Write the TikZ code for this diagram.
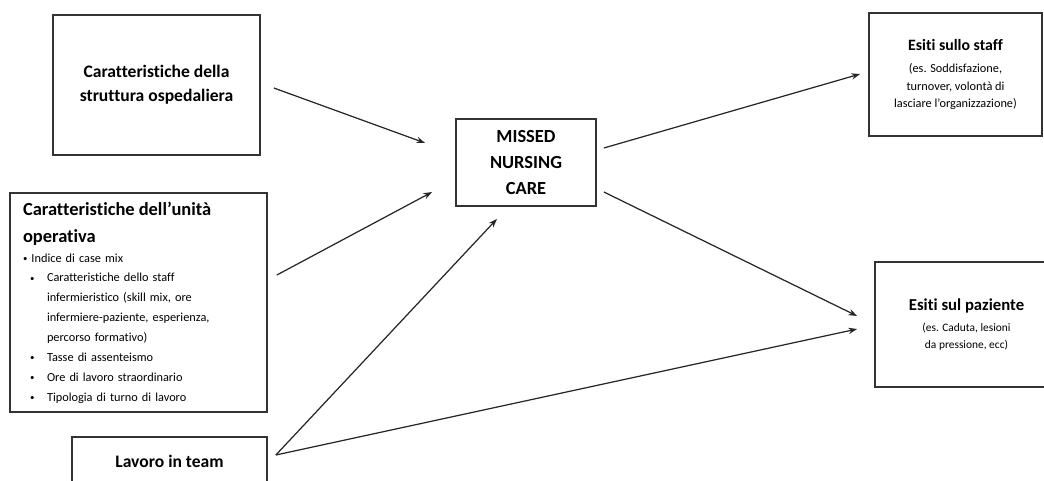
\documentclass[tikz,border=0pt]{standalone}
\usepackage{fontspec}
\setmainfont{Carlito}[Ligatures=NoCommon]
\usetikzlibrary{arrows.meta,calc}

% rientro delle voci dell'elenco
\newcommand\punto{{\fontsize{5}{5}\selectfont\raisebox{0.3pt}{\textbullet}}}
\newcommand\voce{\makebox[0.48cm][l]{\hspace{0.14cm}\punto}}
\newcommand\rientro{\hspace*{0.48cm}}

\begin{document}
\begin{tikzpicture}[x=0.02cm,y=-0.02cm,
	box/.style={draw=black!80,line width=1pt,align=center,inner sep=0pt},
	titolo/.style={font=\fontsize{10}{13.5}\selectfont\bfseries},
	freccia/.style={-{Stealth[length=5pt,width=3.6pt]},draw=black!85,line width=0.7pt}]
			\useasboundingbox (0,0) rectangle (1044,480);
			% Riquadri a sinistra
			\node[box,titolo,minimum width=4.14cm,minimum height=2.8cm] (strut) at (156.5,85)
				{Caratteristiche della\\struttura ospedaliera};
			\node[box,align=left,text width=4.62cm,inner xsep=0.26cm,inner ysep=0pt,
				minimum height=4.38cm,font=\fontsize{7}{11.3}\selectfont] (unita) at (138.5,302.5)
				{{\fontsize{10.5}{15.3}\selectfont\bfseries Caratteristiche dell’unità\\operativa\par}
				\punto\ Indice di case mix\\
				\voce Caratteristiche dello staff\\
				\rientro infermieristico (skill mix, ore\\
				\rientro infermiere-paziente, esperienza,\\
				\rientro percorso formativo)\\
				\voce Tasse di assenteismo\\
				\voce Ore di lavoro straordinario\\
				\voce Tipologia di turno di lavoro};
			\node[box,titolo,minimum width=3.9cm,minimum height=0.98cm] (team) at (169.5,461.5)
				{Lavoro in team};
			% Riquadro centrale
			\node[box,font=\fontsize{10.5}{14.7}\selectfont\bfseries,minimum width=2.8cm,minimum height=1.74cm] (missed) at (526,162.5)
				{MISSED\\NURSING\\CARE};
			% Esiti
			\node[box,font=\fontsize{7}{10}\selectfont,minimum width=3.46cm,minimum height=2.46cm] (staff) at (955.5,74.5)
				{{\fontsize{9}{11}\selectfont\bfseries Esiti sullo staff}\\[3pt]
				(es. Soddisfazione,\\turnover, volontà di\\lasciare l’organizzazione)};
			\node[box,font=\fontsize{6.5}{9.6}\selectfont,minimum width=3.66cm,minimum height=2.5cm] (paz) at (966.5,324.5)
				{{\fontsize{9.5}{11}\selectfont\bfseries Esiti sul paziente}\\[2pt]
				(es. Caduta, lesioni\\da pressione, ecc)};
			% Frecce
			\draw[freccia] ($(strut.east)+(13,3)$) -- ($(missed.west)+(-30,-19.5)$);
			\draw[freccia] ($(unita.east)+(9,-27.5)$) -- ($(missed.west)+(-23,29.5)$);
			\draw[freccia] ($(team.east)+(8,-6.5)$) -- ($(missed.south)+(-29,12)$);
			\draw[freccia] ($(team.east)+(8,-6.5)$) -- ($(paz.west)+(-17,4.5)$);
			\draw[freccia] ($(missed.east)+(7,-14.5)$) -- ($(staff.west)+(-8,-0.5)$);
			\draw[freccia] ($(missed.east)+(7,29.5)$) -- ($(paz.west)+(-17,-8.5)$);
\end{tikzpicture}
\end{document}
